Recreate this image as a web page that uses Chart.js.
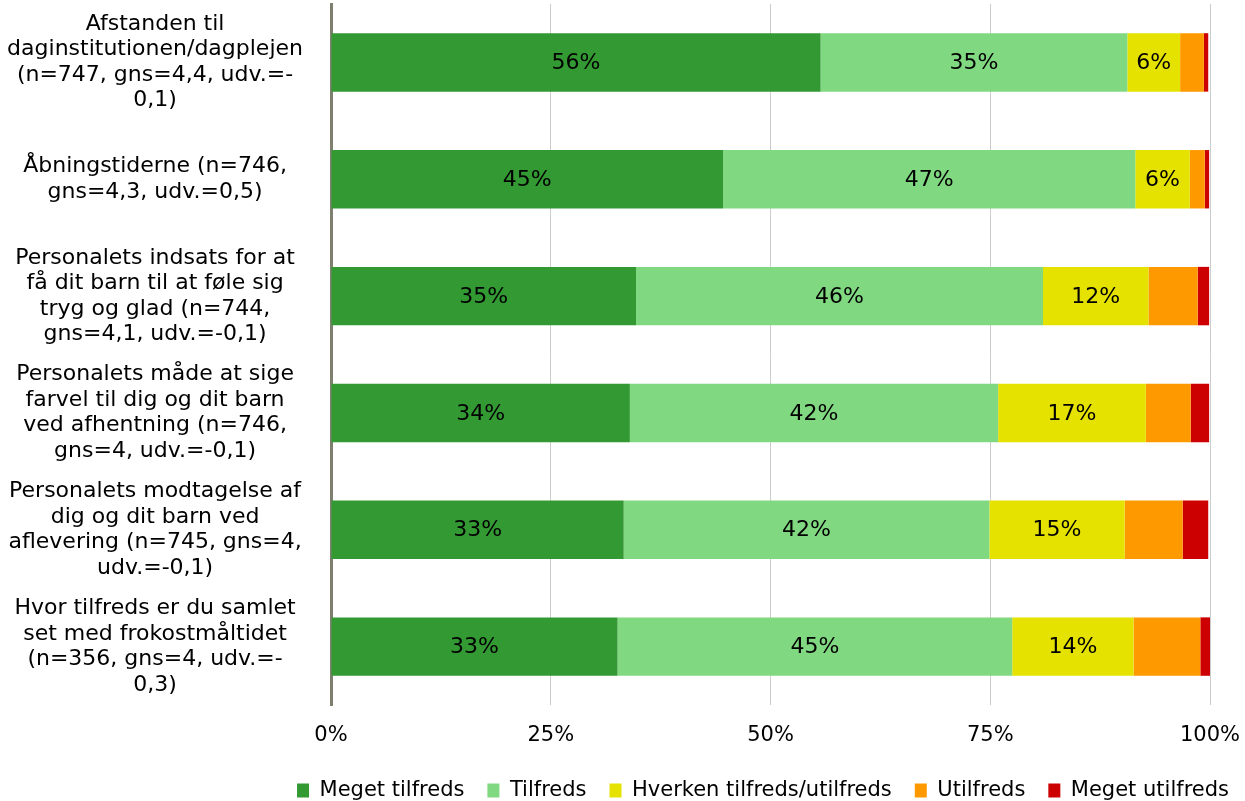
<!DOCTYPE html>
<html>
<head>
<meta charset="utf-8">
<script src="https://cdn.jsdelivr.net/npm/chart.js@4/dist/chart.umd.min.js"></script>
<style>
  html, body { margin: 0; padding: 0; background: #fff; }
  #wrap { width: 1245px; height: 801px; }
</style>
</head>
<body>
<div id="wrap"><canvas id="bar-chart"></canvas></div>
<script>
// questions (each one split into its lines like in the original)
let questionLabels = [
  ['Afstanden til', 'daginstitutionen/dagplejen', '(n=747, gns=4,4, udv.=-', '0,1)'],
  ['Åbningstiderne (n=746,', 'gns=4,3, udv.=0,5)'],
  ['Personalets indsats for at', 'få dit barn til at føle sig', 'tryg og glad (n=744,', 'gns=4,1, udv.=-0,1)'],
  ['Personalets måde at sige', 'farvel til dig og dit barn', 'ved afhentning (n=746,', 'gns=4, udv.=-0,1)'],
  ['Personalets modtagelse af', 'dig og dit barn ved', 'aflevering (n=745, gns=4,', 'udv.=-0,1)'],
  ['Hvor tilfreds er du samlet', 'set med frokostmåltidet', '(n=356, gns=4, udv.=-', '0,3)'],
];

let seriesNames = ['Meget tilfreds', 'Tilfreds', 'Hverken tilfreds/utilfreds', 'Utilfreds', 'Meget utilfreds'];

// percentages per question
let megetTilfreds   = [55.7, 44.6, 34.7, 34.0, 33.3, 32.6];
let tilfreds        = [34.9, 46.9, 46.3, 41.9, 41.6, 44.9];
let hverken         = [6.0, 6.2, 12.0, 16.8, 15.4, 13.8];
let utilfreds       = [2.7, 1.7, 5.6, 5.1, 6.6, 7.6];
let megetUtilfreds  = [0.5, 0.5, 1.3, 2.1, 2.9, 1.1];

let xTicks = ['0%', '25%', '50%', '75%', '100%'];

let barColors = ['rgb(51,153,51)', 'rgb(128,216,128)', 'rgb(230,226,0)', 'rgb(255,153,0)', 'rgb(204,0,0)'];

let seriesData = [megetTilfreds, tilfreds, hverken, utilfreds, megetUtilfreds];

// only the three first series get a value label
let showLabel = [true, true, true, false, false];

const fontFamily = '"DejaVu Sans", Verdana, sans-serif';

const valueLabels = {
  id: 'valueLabels',
  afterDatasetsDraw(chart) {
    let ctx = chart.ctx;
    ctx.save();
    ctx.font = '22px ' + fontFamily;
    ctx.fillStyle = '#000';
    ctx.textAlign = 'center';
    ctx.textBaseline = 'middle';
    chart.data.datasets.forEach((ds, i) => {
      if (!showLabel[i]) return;
      chart.getDatasetMeta(i).data.forEach((bar, j) => {
        let p = bar.getCenterPoint();
        ctx.fillText(Math.round(ds.data[j]) + '%', p.x, p.y + 1);
      });
    });
    ctx.restore();
  }
};

let renderChart = () => {
  let canvas = document.getElementById('bar-chart');
  new Chart(canvas, {
    type: 'bar',
    data: {
      labels: questionLabels,
      datasets: seriesNames.map((name, i) => ({
        label: name,
        data: seriesData[i],
        backgroundColor: barColors[i],
        borderWidth: 0,
        categoryPercentage: 1,
        barPercentage: 0.5,
      })),
    },
    options: {
      indexAxis: 'y',
      responsive: true,
      maintainAspectRatio: false,
      animation: false,
      layout: { padding: { top: 4, right: -7, left: 0, bottom: -10 } },
      scales: {
        x: {
          stacked: true,
          min: 0,
          max: 100,
          afterBuildTicks: (axis) => {
            axis.ticks = xTicks.map((t) => ({ value: parseFloat(t) }));
          },
          afterFit: (axis) => {
            axis.height = 52;
            axis.paddingRight = 35;
            axis.paddingLeft = 0;
          },
          ticks: {
            callback: (v) => v + '%',
            color: '#000',
            padding: 18,
            maxRotation: 0,
            font: { family: fontFamily, size: 21 },
          },
          grid: { color: '#cccccc', lineWidth: 1, drawTicks: false },
          border: { display: false },
        },
        y: {
          stacked: true,
          afterFit: (axis) => {
            axis.width = 331;
            axis.paddingTop = 0;
            axis.paddingBottom = 0;
          },
          ticks: {
            autoSkip: false,
            crossAlign: 'center',
            color: '#000',
            padding: 28,
            font: { family: fontFamily, size: 22, lineHeight: 1.16 },
          },
          grid: { display: false, drawTicks: false },
          border: { display: true, color: '#7f7f6f', width: 3 },
        },
      },
      plugins: {
        legend: {
          position: 'bottom',
          align: 'end',
          labels: {
            boxWidth: 12,
            boxHeight: 14,
            padding: 23,
            color: '#000',
            font: { family: fontFamily, size: 21 },
          },
        },
        tooltip: { enabled: false },
      },
    },
    plugins: [valueLabels],
  });
};

renderChart();
</script>
</body>
</html>
